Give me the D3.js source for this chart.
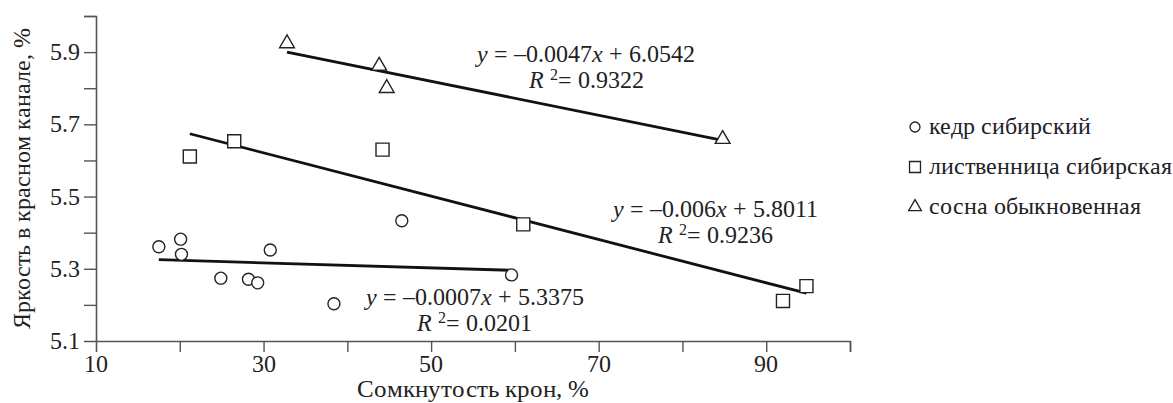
<!DOCTYPE html>
<html><head><meta charset="utf-8" />
<script src="https://d3js.org/d3.v7.min.js"></script>
<style>
  @font-face { font-family: "ChartSerif"; font-style: normal; font-weight: 400;
    src: local("Liberation Serif"), local("LiberationSerif"), local("LiberationSerif-Regular"); }
  @font-face { font-family: "ChartSerif"; font-style: italic; font-weight: 400;
    src: local("Liberation Serif Italic"), local("LiberationSerif-Italic"); }
</style>
</head>
<body style="margin:0">
<script>
// data
var seriesNames = ["кедр сибирский", "лиственница сибирская", "сосна обыкновенная"];

var kedrX = [17.5, 20.1, 20.2, 24.9, 28.2, 29.3, 30.8, 38.4, 46.5, 59.6];
var kedrY = [5.361, 5.382, 5.340, 5.274, 5.271, 5.261, 5.352, 5.203, 5.433, 5.283];

var listX = [21.2, 26.5, 44.2, 61.0, 92.0, 94.8];
var listY = [5.611, 5.653, 5.630, 5.423, 5.211, 5.252];

var sosnaX = [32.8, 43.8, 44.7, 84.8];
var sosnaY = [5.924, 5.862, 5.800, 5.659];

// trend lines y = a*x + b
var slopes = [-0.0007, -0.006, -0.0047];
var intercepts = [5.3375, 5.8011, 6.0542];
var eqText = ["–0.0007", "–0.006", "–0.0047"];
var eqConst = ["5.3375", "5.8011", "6.0542"];
var r2Text = ["0.0201", "0.9236", "0.9322"];
// label anchor (data units) for each equation
var eqAtX = [55.2, 84.0, 68.5];
var eqAtY = [5.2, 5.444, 5.873];

var xTicks = [10, 20, 30, 40, 50, 60, 70, 80, 90, 100];
var xLabels = [10, 30, 50, 70, 90];
var yTicks = [5.1, 5.2, 5.3, 5.4, 5.5, 5.6, 5.7, 5.8, 5.9, 6.0];
var yLabels = [5.1, 5.3, 5.5, 5.7, 5.9];

var W = 1173, H = 403;
var margin = {top: 16, right: 323, bottom: 62, left: 96},
    width = W - margin.left - margin.right,
    height = H - margin.top - margin.bottom;

var FONT = "ChartSerif, 'Liberation Serif', serif";

var svg = d3.select("body").append("svg")
    .attr("width", W).attr("height", H)
    .attr("font-family", "Liberation Serif");
var g = svg.append("g")
    .attr("transform", "translate(" + margin.left + "," + margin.top + ")");

var x = d3.scaleLinear().domain([10, 100]).range([0, width]);
var y = d3.scaleLinear().domain([5.1, 6.0]).range([height, 0]);

function txt(sel, size) {
  return sel.attr("font-family", "Liberation Serif")
    .style("font-family", FONT).style("font-size", size + "px").style("fill", "#222");
}

// axes (tick marks drawn by d3, labels added as own texts)
var xAxis = g.append("g")
    .attr("transform", "translate(0," + height + ")")
    .call(d3.axisBottom(x).tickValues(xTicks).tickSizeOuter(0).tickSize(11).tickFormat(""));
var yAxis = g.append("g")
    .call(d3.axisLeft(y).tickValues(yTicks).tickSizeOuter(0).tickSize(12).tickFormat(""));

[xAxis, yAxis].forEach(function(ax) {
  ax.attr("font-family", null);
  ax.select(".domain").attr("stroke", "#555").attr("stroke-width", 1.6);
  ax.selectAll(".tick line").attr("stroke", "#555").attr("stroke-width", 1.4);
  ax.selectAll(".tick text").remove();
});
// no tick at the corner
xAxis.selectAll(".tick").filter(function(d) { return d === 10; }).select("line").remove();
yAxis.selectAll(".tick").filter(function(d) { return Math.abs(d - 5.1) < 1e-9; }).select("line").remove();

xLabels.forEach(function(v) {
  txt(g.append("text"), 24).attr("x", x(v)).attr("y", height + 31)
    .attr("text-anchor", "middle").text(v);
});
yLabels.forEach(function(v) {
  txt(g.append("text"), 24).attr("x", -16).attr("y", y(v) + 8)
    .attr("text-anchor", "end").text(d3.format(".1f")(v));
});

// axis titles
txt(svg.append("text"), 25)
  .attr("x", margin.left + width / 2).attr("y", 397)
  .attr("text-anchor", "middle")
  .text("Сомкнутость крон, %");
txt(svg.append("text"), 24)
  .attr("transform", "translate(30," + (margin.top + height / 2) + ") rotate(-90)")
  .attr("text-anchor", "middle")
  .text("Яркость в красном канале, %");

// trend lines
var xsAll = [kedrX, listX, sosnaX];
xsAll.forEach(function(xs, i) {
  var x0 = d3.min(xs), x1 = d3.max(xs);
  g.append("line")
    .attr("x1", x(x0)).attr("y1", y(slopes[i] * x0 + intercepts[i]))
    .attr("x2", x(x1)).attr("y2", y(slopes[i] * x1 + intercepts[i]))
    .attr("stroke", "#111").attr("stroke-width", 2.8);
});

// markers
var sym = [d3.symbolCircle, d3.symbolSquare, d3.symbolTriangle];
var symSize = [113, 170, 95];
var ysAll = [kedrY, listY, sosnaY];
xsAll.forEach(function(xs, i) {
  g.selectAll(".m" + i)
    .data(xs.map(function(v, j) { return [v, ysAll[i][j]]; }))
    .enter().append("path")
    .attr("class", "m" + i)
    .attr("d", d3.symbol().type(sym[i]).size(symSize[i]))
    .attr("transform", function(d) { return "translate(" + x(d[0]) + "," + y(d[1]) + ")"; })
    .attr("fill", "#fff").attr("stroke", "#222").attr("stroke-width", 1.4);
});

// equations
eqText.forEach(function(t, i) {
  var tx = x(eqAtX[i]), ty = y(eqAtY[i]);
  var l1 = txt(g.append("text"), 24).attr("x", tx).attr("y", ty)
    .attr("text-anchor", "middle");
  l1.append("tspan").style("font-style", "italic").text("y");
  l1.append("tspan").text(" = " + t);
  l1.append("tspan").style("font-style", "italic").text("x");
  l1.append("tspan").text(" + " + eqConst[i]);

  var l2 = txt(g.append("text"), 24).attr("x", tx).attr("y", ty + 26)
    .attr("text-anchor", "middle");
  l2.append("tspan").style("font-style", "italic").text("R ");
  l2.append("tspan").attr("dy", -8).style("font-size", "16px").text("2");
  l2.append("tspan").attr("dy", 8).text("= " + r2Text[i]);
});

// legend
var lg = svg.append("g").attr("transform", "translate(915,127)");
var legSize = [78, 120, 70];
seriesNames.forEach(function(name, i) {
  var row = lg.append("g").attr("transform", "translate(0," + (i * 40) + ")");
  row.append("path")
    .attr("d", d3.symbol().type(sym[i]).size(legSize[i]))
    .attr("fill", "#fff").attr("stroke", "#222").attr("stroke-width", 1.3);
  txt(row.append("text"), 24).attr("x", 14).attr("y", 7).text(name);
});
</script>
</body>
</html>
